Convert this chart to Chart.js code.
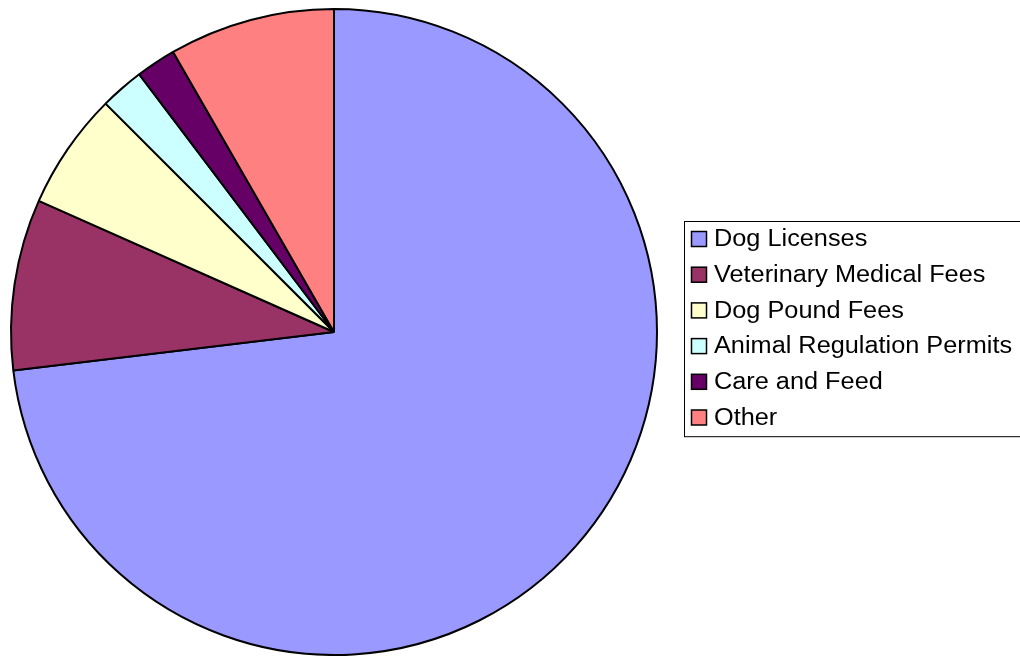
<!DOCTYPE html>
<html lang="en">
<head>
<meta charset="UTF-8">
<title>Revenue pie</title>
<style>
  html, body { margin: 0; padding: 0; background: #fff; }
  #wrap { width: 1020px; height: 656px; }
</style>
<script src="https://cdn.jsdelivr.net/npm/chart.js"></script>
</head>
<body>
<div id="wrap"><canvas id="pie" width="1020" height="656"></canvas></div>
<script>
// slice labels and shares (percent)
const categories = ['Dog Licenses', 'Veterinary Medical Fees', 'Dog Pound Fees',
  'Animal Regulation Permits', 'Care and Feed', 'Other'];
const shares = [73.1, 8.55, 5.85, 2.2, 2.0, 8.3];
const sliceColors = ['#9999FF', '#993366', '#FFFFCC', '#CCFFFF', '#660066', '#FF8080'];

// legend drawn in the old boxed style, from the chart's own labels/colours
const boxedLegend = {
  id: 'boxedLegend',
  afterDraw(chart) {
    const ctx = chart.ctx;
    const ds = chart.data.datasets[0];
    const left = 684.5, top = 221.5, rowH = 35.7;
    const h = rowH * chart.data.labels.length + 1;
    ctx.save();
    ctx.fillStyle = '#fff';
    ctx.strokeStyle = '#000';
    ctx.lineWidth = 1;
    ctx.fillRect(left, top, 1020 - left + 2, h);
    ctx.strokeRect(left, top, 1020 - left + 2, h);
    ctx.font = '23px "Liberation Sans", Arial, sans-serif';
    ctx.textBaseline = 'middle';
    chart.data.labels.forEach((lab, i) => {
      const cy = top + 17.5 + i * rowH;
      ctx.fillStyle = ds.backgroundColor[i];
      ctx.lineWidth = 1.5;
      ctx.fillRect(691.5, cy - 7.5, 15, 15);
      ctx.strokeRect(691.5, cy - 7.5, 15, 15);
      ctx.fillStyle = '#000';
      ctx.save();
      ctx.translate(714, cy + 1);
      ctx.scale(1.1, 1);  // source text runs a bit wide
      ctx.fillText(lab, 0, 0);
      ctx.restore();
    });
    ctx.restore();
  }
};

new Chart(document.getElementById('pie'), {
  type: 'pie',
  data: {
    labels: categories,
    datasets: [{
      data: shares,
      backgroundColor: sliceColors,
      borderColor: '#000',
      borderWidth: 2
    }]
  },
  options: {
    responsive: false,
    animation: false,
    events: [],
    layout: { padding: { left: 10, right: 362, top: 8, bottom: 0 } },
    plugins: {
      legend: { display: false },
      tooltip: { enabled: false }
    }
  },
  plugins: [boxedLegend]
});
</script>
</body>
</html>
